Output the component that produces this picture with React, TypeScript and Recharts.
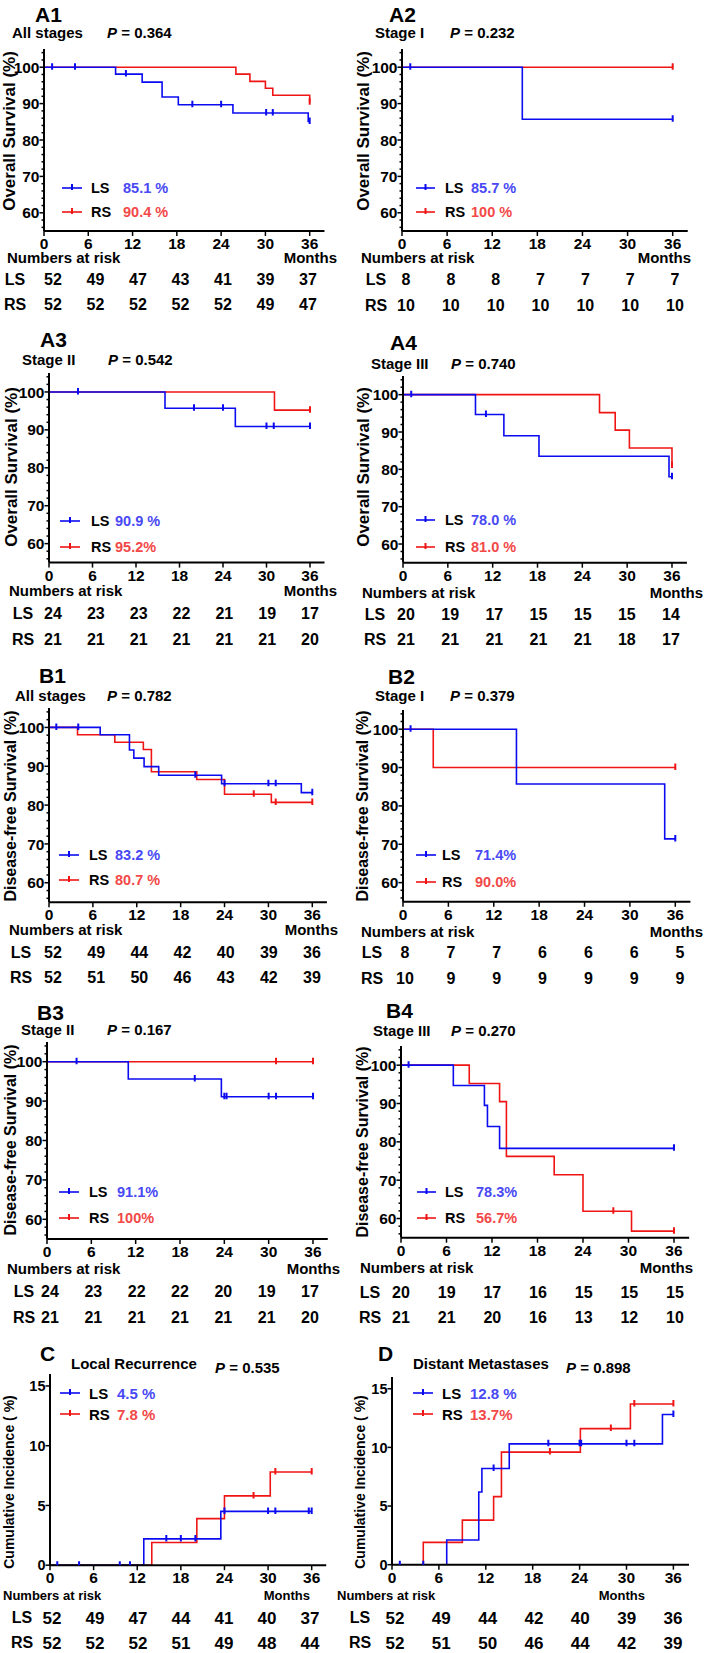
import { ComposedChart, Line, XAxis, YAxis } from 'recharts'

// ── Style ─────────────────────────────────────────────────────────────────────

const FONT = '"Liberation Sans", Arial, Helvetica, sans-serif'
const BLUE = '#0b0bf0'
const RED = '#ef1515'
const BLUE_TEXT = '#4848f4'
const RED_TEXT = '#f24848'

// ── Axes ──────────────────────────────────────────────────────────────────────

const MONTH_TICKS = [0, 6, 12, 18, 24, 30, 36]
const SURVIVAL_TICKS = [
  56, 58, 60, 62, 64, 66, 68, 70, 72, 74, 76, 78, 80, 82, 84, 86, 88, 90, 92, 94, 96, 98, 100, 102, 104,
]
const SURVIVAL_LABELS = [60, 70, 80, 90, 100]
const INCIDENCE_TICKS = [0, 5, 10, 15]

// ── Data: [month, %] steps, censor months, numbers at risk ────────────────────

type Step = [number, number]

const A1_LS_STEPS: Step[] = [[0, 100], [9.7, 98.1], [13.3, 95.9], [16, 91.8], [18.2, 89.7], [25.6, 87.4], [35.8, 85.1], [36, 85.1]]
const A1_LS_CENSOR = [1.1, 4.2, 11.1, 20.1, 24, 30.1, 31, 36]
const A1_RS_STEPS: Step[] = [[0, 100], [26, 98.1], [27.9, 96.1], [30, 94.2], [31, 92.3], [36, 90.4]]
const A1_RS_CENSOR = [36]
const A1_RISK_LS = [52, 49, 47, 43, 41, 39, 37]
const A1_RISK_RS = [52, 52, 52, 52, 52, 49, 47]

const A2_LS_STEPS: Step[] = [[0, 100], [16, 85.7], [36, 85.7]]
const A2_LS_CENSOR = [1.1, 36]
const A2_RS_STEPS: Step[] = [[0, 100], [36, 100]]
const A2_RS_CENSOR = [36]
const A2_RISK_LS = [8, 8, 8, 7, 7, 7, 7]
const A2_RISK_RS = [10, 10, 10, 10, 10, 10, 10]

const A3_LS_STEPS: Step[] = [[0, 100], [16, 95.7], [25.7, 90.9], [36, 90.9]]
const A3_LS_CENSOR = [4, 20, 24, 30, 31, 36]
const A3_RS_STEPS: Step[] = [[0, 100], [31.1, 95.2], [36, 95.2]]
const A3_RS_CENSOR = [36]
const A3_RISK_LS = [24, 23, 23, 22, 21, 19, 17]
const A3_RISK_RS = [21, 21, 21, 21, 21, 21, 20]

const A4_LS_STEPS: Step[] = [[0, 100], [9.7, 94.7], [13.5, 89], [18.2, 83.5], [35.6, 78], [36, 78]]
const A4_LS_CENSOR = [1.1, 11.1, 36]
const A4_RS_STEPS: Step[] = [[0, 100], [26.3, 95.2], [28.4, 90.5], [30.3, 85.7], [36, 81]]
const A4_RS_CENSOR = [36]
const A4_RISK_LS = [20, 19, 17, 15, 15, 15, 14]
const A4_RISK_RS = [21, 21, 21, 21, 21, 18, 17]

const B1_LS_STEPS: Step[] = [[0, 100], [7, 98.1], [11, 94.2], [11.6, 92.1], [13, 89.9], [15, 87.7], [23.6, 85.5], [34.5, 83.2], [36, 83.2]]
const B1_LS_CENSOR = [1, 4, 20, 24, 30, 31, 36]
const B1_RS_STEPS: Step[] = [[0, 100], [3.9, 98.1], [9, 96.2], [12.9, 94.3], [14, 88.6], [20.2, 86.6], [24, 82.8], [30.4, 80.7], [36, 80.7]]
const B1_RS_CENSOR = [28, 31, 36]
const B1_RISK_LS = [52, 49, 44, 42, 40, 39, 36]
const B1_RISK_RS = [52, 51, 50, 46, 43, 42, 39]

const B2_LS_STEPS: Step[] = [[0, 100], [15, 85.7], [34.6, 71.4], [36, 71.4]]
const B2_LS_CENSOR = [1, 36]
const B2_RS_STEPS: Step[] = [[0, 100], [4, 90], [36, 90]]
const B2_RS_CENSOR = [36]
const B2_RISK_LS = [8, 7, 7, 6, 6, 6, 5]
const B2_RISK_RS = [10, 9, 9, 9, 9, 9, 9]

const B3_LS_STEPS: Step[] = [[0, 100], [11, 95.6], [23.6, 91.1], [36, 91.1]]
const B3_LS_CENSOR = [4, 20, 24, 24.3, 30, 31, 36]
const B3_RS_STEPS: Step[] = [[0, 100], [36, 100]]
const B3_RS_CENSOR = [31, 36]
const B3_RISK_LS = [24, 23, 22, 22, 20, 19, 17]
const B3_RISK_RS = [21, 21, 21, 21, 21, 21, 20]

const B4_LS_STEPS: Step[] = [[0, 100], [6.9, 94.7], [11, 89.5], [11.4, 84], [13, 78.3], [36, 78.3]]
const B4_LS_CENSOR = [1, 36]
const B4_RS_STEPS: Step[] = [[0, 100], [9, 95.2], [13, 90.5], [13.9, 76.2], [20.2, 71.4], [24, 61.9], [30.4, 56.7], [36, 56.7]]
const B4_RS_CENSOR = [28, 36]
const B4_RISK_LS = [20, 19, 17, 16, 15, 15, 15]
const B4_RISK_RS = [21, 21, 20, 16, 13, 12, 10]

const C_LS_STEPS: Step[] = [[0, 0], [12.9, 2.2], [23.5, 4.5], [36, 4.5]]
const C_LS_CENSOR = [1, 4, 9.6, 11, 16, 18, 20, 24, 30, 31, 35.6, 36]
const C_RS_STEPS: Step[] = [[0, 0], [14, 1.9], [20.2, 3.9], [24, 5.8], [30.3, 7.8], [36, 7.8]]
const C_RS_CENSOR = [28, 31, 36]
const C_RISK_LS = [52, 49, 47, 44, 41, 40, 37]
const C_RISK_RS = [52, 52, 52, 51, 49, 48, 44]

const D_LS_STEPS: Step[] = [[0, 0], [7, 2.1], [11.1, 6.2], [11.5, 8.2], [15, 10.3], [34.6, 12.8], [36, 12.8]]
const D_LS_CENSOR = [1, 4, 13, 20, 24, 24.2, 30, 31, 36]
const D_RS_STEPS: Step[] = [[0, 0], [4, 1.9], [9, 3.8], [13, 5.8], [14, 9.6], [24.1, 11.6], [30.5, 13.7], [36, 13.7]]
const D_RS_CENSOR = [20.2, 28, 31, 36]
const D_RISK_LS = [52, 49, 44, 42, 40, 39, 36]
const D_RISK_RS = [52, 51, 50, 46, 44, 42, 39]

// ── Panel layout ──────────────────────────────────────────────────────────────

interface Panel {
  id: string
  tag: [number, number]
  sub: string
  subAt: [number, number]
  p: string
  pAt: [number, number]
  yTitle: string
  yTitleAt: [number, number]
  yTitleSize: number
  px0: number
  px36: number
  top: number
  bottom: number
  yDomain: [number, number]
  yTicks: number[]
  yLabels: number[]
  ls: { steps: Step[]; censor: number[]; value: string; risk: number[] }
  rs: { steps: Step[]; censor: number[]; value: string; risk: number[] }
  legLine: [number, number]
  legLabelX: number
  legValX: number
  legY: [number, number]
  legSize: number
  nar: [number, number]
  monthsRight: number
  narSize: number
  rowLabelX: number
  rowFirst: number
  rowLast: number
  rowY: [number, number]
  numSize: number
}

const OS = 'Overall Survival (%)'
const DFS = 'Disease-free Survival (%)'
const CI = 'Cumulative Incidence ( %)'

const surv = { yDomain: [55, 105] as [number, number], yTicks: SURVIVAL_TICKS, yLabels: SURVIVAL_LABELS, legSize: 14.5, narSize: 15, numSize: 16 }
const inc = { yDomain: [0, 16] as [number, number], yTicks: INCIDENCE_TICKS, yLabels: INCIDENCE_TICKS, legSize: 15, narSize: 13, numSize: 17 }

const PANELS: Panel[] = [
  {
    ...surv, id: 'A1', tag: [35, 13.5], sub: 'All stages', subAt: [12, 32], p: '0.364', pAt: [107, 32],
    yTitle: OS, yTitleAt: [9, 131], yTitleSize: 17, px0: 44.3, px36: 310, top: 48.5, bottom: 230.5,
    ls: { steps: A1_LS_STEPS, censor: A1_LS_CENSOR, value: '85.1 %', risk: A1_RISK_LS },
    rs: { steps: A1_RS_STEPS, censor: A1_RS_CENSOR, value: '90.4 %', risk: A1_RISK_RS },
    legLine: [62, 82], legLabelX: 91, legValX: 123, legY: [188, 212],
    nar: [7, 257], monthsRight: 337, rowLabelX: 15, rowFirst: 53, rowLast: 308, rowY: [280, 305],
  },
  {
    ...surv, id: 'A2', tag: [389, 13.5], sub: 'Stage I', subAt: [375, 32], p: '0.232', pAt: [450, 32],
    yTitle: OS, yTitleAt: [363, 131], yTitleSize: 17, px0: 402.3, px36: 673, top: 48.5, bottom: 230.5,
    ls: { steps: A2_LS_STEPS, censor: A2_LS_CENSOR, value: '85.7 %', risk: A2_RISK_LS },
    rs: { steps: A2_RS_STEPS, censor: A2_RS_CENSOR, value: '100 %', risk: A2_RISK_RS },
    legLine: [416, 435], legLabelX: 445, legValX: 471, legY: [188, 212],
    nar: [361, 257], monthsRight: 691, rowLabelX: 376, rowFirst: 406, rowLast: 675, rowY: [280, 306],
  },
  {
    ...surv, id: 'A3', tag: [40, 339], sub: 'Stage II', subAt: [22, 359], p: '0.542', pAt: [108, 359],
    yTitle: OS, yTitleAt: [11, 467], yTitleSize: 17, px0: 49, px36: 310, top: 372.7, bottom: 562.3,
    ls: { steps: A3_LS_STEPS, censor: A3_LS_CENSOR, value: '90.9 %', risk: A3_RISK_LS },
    rs: { steps: A3_RS_STEPS, censor: A3_RS_CENSOR, value: '95.2%', risk: A3_RISK_RS },
    legLine: [60, 80], legLabelX: 91, legValX: 115, legY: [521, 547],
    nar: [9, 590], monthsRight: 337, rowLabelX: 23, rowFirst: 53, rowLast: 310, rowY: [614, 640],
  },
  {
    ...surv, id: 'A4', tag: [390, 341.7], sub: 'Stage III', subAt: [371, 362.7], p: '0.740', pAt: [451, 362.7],
    yTitle: OS, yTitleAt: [363, 467], yTitleSize: 17, px0: 403, px36: 672, top: 376.3, bottom: 563,
    ls: { steps: A4_LS_STEPS, censor: A4_LS_CENSOR, value: '78.0 %', risk: A4_RISK_LS },
    rs: { steps: A4_RS_STEPS, censor: A4_RS_CENSOR, value: '81.0 %', risk: A4_RISK_RS },
    legLine: [416, 435], legLabelX: 445, legValX: 471, legY: [520, 547],
    nar: [362, 592], monthsRight: 703, rowLabelX: 375, rowFirst: 406, rowLast: 671, rowY: [615, 640],
  },
  {
    ...surv, id: 'B1', tag: [39, 675], sub: 'All stages', subAt: [15, 695], p: '0.782', pAt: [107, 695],
    yTitle: DFS, yTitleAt: [11, 806], yTitleSize: 16, px0: 49, px36: 312.3, top: 707.9, bottom: 902.1,
    ls: { steps: B1_LS_STEPS, censor: B1_LS_CENSOR, value: '83.2 %', risk: B1_RISK_LS },
    rs: { steps: B1_RS_STEPS, censor: B1_RS_CENSOR, value: '80.7 %', risk: B1_RISK_RS },
    legLine: [59, 79], legLabelX: 89, legValX: 115, legY: [855, 880],
    nar: [9, 929], monthsRight: 338, rowLabelX: 21, rowFirst: 53, rowLast: 312, rowY: [953, 978],
  },
  {
    ...surv, id: 'B2', tag: [388, 676], sub: 'Stage I', subAt: [375, 695], p: '0.379', pAt: [450, 695],
    yTitle: DFS, yTitleAt: [363, 806], yTitleSize: 16, px0: 403, px36: 675.3, top: 710.1, bottom: 901.9,
    ls: { steps: B2_LS_STEPS, censor: B2_LS_CENSOR, value: '71.4%', risk: B2_RISK_LS },
    rs: { steps: B2_RS_STEPS, censor: B2_RS_CENSOR, value: '90.0%', risk: B2_RISK_RS },
    legLine: [416, 436], legLabelX: 442, legValX: 475, legY: [855, 882],
    nar: [361, 931], monthsRight: 703, rowLabelX: 372, rowFirst: 405, rowLast: 680, rowY: [953, 979],
  },
  {
    ...surv, id: 'B3', tag: [37, 1011.7], sub: 'Stage II', subAt: [21, 1029], p: '0.167', pAt: [107, 1029],
    yTitle: DFS, yTitleAt: [11, 1140], yTitleSize: 16, px0: 47.3, px36: 313.3, top: 1042, bottom: 1239,
    ls: { steps: B3_LS_STEPS, censor: B3_LS_CENSOR, value: '91.1%', risk: B3_RISK_LS },
    rs: { steps: B3_RS_STEPS, censor: B3_RS_CENSOR, value: '100%', risk: B3_RISK_RS },
    legLine: [59, 79], legLabelX: 89, legValX: 117, legY: [1192, 1218],
    nar: [7, 1268], monthsRight: 340, rowLabelX: 24, rowFirst: 50, rowLast: 310, rowY: [1292, 1318],
  },
  {
    ...surv, id: 'B4', tag: [386, 1010], sub: 'Stage III', subAt: [373, 1030], p: '0.270', pAt: [451, 1030],
    yTitle: DFS, yTitleAt: [363, 1142], yTitleSize: 16, px0: 400.7, px36: 673.7, top: 1045.8, bottom: 1237.5,
    ls: { steps: B4_LS_STEPS, censor: B4_LS_CENSOR, value: '78.3%', risk: B4_RISK_LS },
    rs: { steps: B4_RS_STEPS, censor: B4_RS_CENSOR, value: '56.7%', risk: B4_RISK_RS },
    legLine: [417, 436], legLabelX: 445, legValX: 476, legY: [1192, 1218],
    nar: [360, 1267], monthsRight: 693, rowLabelX: 370, rowFirst: 401, rowLast: 675, rowY: [1293, 1318],
  },
  {
    ...inc, id: 'C', tag: [40, 1353], sub: 'Local Recurrence', subAt: [71, 1363], p: '0.535', pAt: [215, 1367],
    yTitle: CI, yTitleAt: [9, 1482], yTitleSize: 14, px0: 50, px36: 311.7, top: 1373.8, bottom: 1565,
    ls: { steps: C_LS_STEPS, censor: C_LS_CENSOR, value: '4.5 %', risk: C_RISK_LS },
    rs: { steps: C_RS_STEPS, censor: C_RS_CENSOR, value: '7.8 %', risk: C_RISK_RS },
    legLine: [60, 80], legLabelX: 89, legValX: 117, legY: [1393, 1414],
    nar: [3, 1595], monthsRight: 310, rowLabelX: 22, rowFirst: 52, rowLast: 310, rowY: [1618, 1643],
  },
  {
    ...inc, id: 'D', tag: [378, 1353], sub: 'Distant Metastases', subAt: [413, 1363], p: '0.898', pAt: [566, 1367],
    yTitle: CI, yTitleAt: [360, 1482], yTitleSize: 14, px0: 392.3, px36: 673.7, top: 1377.3, bottom: 1565,
    ls: { steps: D_LS_STEPS, censor: D_LS_CENSOR, value: '12.8 %', risk: D_RISK_LS },
    rs: { steps: D_RS_STEPS, censor: D_RS_CENSOR, value: '13.7%', risk: D_RISK_RS },
    legLine: [413, 433], legLabelX: 442, legValX: 470, legY: [1393, 1414],
    nar: [337, 1595], monthsRight: 645, rowLabelX: 360, rowFirst: 395, rowLast: 673, rowY: [1618, 1643],
  },
]

// ── Helpers ───────────────────────────────────────────────────────────────────

const toPoints = (steps: Step[]) => steps.map(([t, v]) => ({ t, v }))

// value of the step curve at a censor time
const censorPoints = (steps: Step[], times: number[]) =>
  times.map((t) => {
    let v = steps[0][1]
    for (const [st, sv] of steps) if (st <= t) v = sv
    return { t, v }
  })

const censorDot = (color: string) => (props: any) => {
  const { cx, cy, index } = props
  if (cx == null || cy == null) return <g key={index} />
  return <line key={index} x1={cx} x2={cx} y1={cy - 4} y2={cy + 2.5} stroke={color} strokeWidth={2} />
}

type Align = 'left' | 'center' | 'right'

function Txt({
  x, y, size, children, color = '#000', weight = 700, align = 'left',
}: { x: number; y: number; size: number; children: React.ReactNode; color?: string; weight?: number; align?: Align }) {
  const tx = align === 'left' ? '0' : align === 'center' ? '-50%' : '-100%'
  return (
    <div
      style={{
        position: 'absolute', left: x, top: y, transform: `translate(${tx}, -50%)`,
        fontSize: size, fontWeight: weight, color, lineHeight: 1, whiteSpace: 'nowrap', fontFamily: FONT,
      }}
    >
      {children}
    </div>
  )
}

// ── Chart ─────────────────────────────────────────────────────────────────────

function KMChart({ p }: { p: Panel }) {
  const plotW = ((p.px36 - p.px0) * 38) / 36
  const plotH = p.bottom - p.top
  const width = plotW + 60
  const height = plotH + 40
  const groups = [
    { key: 'rs', g: p.rs, color: RED },
    { key: 'ls', g: p.ls, color: BLUE },
  ]
  return (
    <div style={{ position: 'absolute', left: p.px0 - 50, top: p.top - 10 }}>
      <ComposedChart width={width} height={height} margin={{ top: 10, right: 10, left: 0, bottom: 0 }}>
        <XAxis
          type="number"
          dataKey="t"
          domain={[0, 38]}
          ticks={MONTH_TICKS}
          interval={0}
          allowDataOverflow
          height={30}
          axisLine={{ stroke: '#000', strokeWidth: 2 }}
          tickLine={{ stroke: '#000', strokeWidth: 1.5 }}
          tickSize={5}
          tickMargin={2}
          tick={{ fontSize: 15.5, fontWeight: 700, fill: '#000', fontFamily: FONT }}
        />
        <YAxis
          type="number"
          domain={p.yDomain}
          ticks={p.yTicks}
          interval={0}
          allowDataOverflow
          width={50}
          axisLine={{ stroke: '#000', strokeWidth: 2 }}
          tickLine={false}
          tickSize={0}
          tickMargin={0}
          tick={(props: any) => {
            const { x, y, payload, index } = props
            const major = p.yLabels.includes(payload.value)
            return (
              <g key={index}>
                <line x1={x} x2={x - (major ? 4.5 : 2.5)} y1={y} y2={y} stroke="#000" strokeWidth={1.5} />
                {major && (
                  <text
                    x={x - 4.5}
                    y={y}
                    dy="0.36em"
                    textAnchor="end"
                    fontSize={p.yLabels.length > 4 ? 15.5 : 14.5}
                    fontWeight={700}
                    fontFamily={FONT}
                    fill="#000"
                  >
                    {payload.value}
                  </text>
                )}
              </g>
            )
          }}
        />
        {groups.flatMap(({ key, g, color }) => [
          <Line
            key={key}
            data={toPoints(g.steps)}
            dataKey="v"
            type="stepAfter"
            stroke={color}
            strokeWidth={1.6}
            dot={false}
            activeDot={false}
            isAnimationActive={false}
          />,
          <Line
            key={key + '-censor'}
            data={censorPoints(g.steps, g.censor)}
            dataKey="v"
            stroke="none"
            dot={censorDot(color)}
            activeDot={false}
            isAnimationActive={false}
          />,
        ])}
      </ComposedChart>
    </div>
  )
}

function LegendRow({ p, which }: { p: Panel; which: 'ls' | 'rs' }) {
  const y = which === 'ls' ? p.legY[0] : p.legY[1]
  const color = which === 'ls' ? BLUE : RED
  const [x1, x2] = p.legLine
  const mid = (x1 + x2) / 2
  return (
    <>
      <svg style={{ position: 'absolute', left: 0, top: 0, overflow: 'visible' }} width={1} height={1}>
        <line x1={x1} x2={x2} y1={y} y2={y} stroke={color} strokeWidth={1.6} />
        <line x1={mid} x2={mid} y1={y - 4} y2={y + 2} stroke={color} strokeWidth={2} />
      </svg>
      <Txt x={p.legLabelX} y={y} size={p.legSize}>{which === 'ls' ? 'LS' : 'RS'}</Txt>
      <Txt x={p.legValX} y={y} size={p.legSize} color={which === 'ls' ? BLUE_TEXT : RED_TEXT}>
        {which === 'ls' ? p.ls.value : p.rs.value}
      </Txt>
    </>
  )
}

function RiskRow({ p, which }: { p: Panel; which: 'ls' | 'rs' }) {
  const y = which === 'ls' ? p.rowY[0] : p.rowY[1]
  const risk = which === 'ls' ? p.ls.risk : p.rs.risk
  const step = (p.rowLast - p.rowFirst) / (risk.length - 1)
  return (
    <>
      <Txt x={p.rowLabelX} y={y} size={16} align="center">{which === 'ls' ? 'LS' : 'RS'}</Txt>
      {risk.map((n, i) => (
        <Txt key={i} x={p.rowFirst + i * step} y={y} size={p.numSize} align="center">{n}</Txt>
      ))}
    </>
  )
}

function PanelView({ p }: { p: Panel }) {
  return (
    <>
      <Txt x={p.tag[0]} y={p.tag[1]} size={21}>{p.id}</Txt>
      <Txt x={p.subAt[0]} y={p.subAt[1]} size={15}>{p.sub}</Txt>
      <Txt x={p.pAt[0]} y={p.pAt[1]} size={15}>
        <span style={{ fontStyle: 'italic' }}>P</span> = {p.p}
      </Txt>
      <div
        style={{
          position: 'absolute', left: p.yTitleAt[0], top: p.yTitleAt[1],
          transform: 'translate(-50%, -50%) rotate(-90deg)', fontSize: p.yTitleSize, fontWeight: 700,
          fontFamily: FONT, lineHeight: 1, whiteSpace: 'nowrap', color: '#000',
        }}
      >
        {p.yTitle}
      </div>
      <KMChart p={p} />
      <LegendRow p={p} which="ls" />
      <LegendRow p={p} which="rs" />
      <Txt x={p.nar[0]} y={p.nar[1]} size={p.narSize}>Numbers at risk</Txt>
      <Txt x={p.monthsRight} y={p.nar[1]} size={p.narSize} align="right">Months</Txt>
      <RiskRow p={p} which="ls" />
      <RiskRow p={p} which="rs" />
    </>
  )
}

export default function App() {
  return (
    <div style={{ position: 'absolute', left: 0, top: 0, width: 706, height: 1653, background: '#fff', overflow: 'hidden' }}>
      {PANELS.map((p) => (
        <PanelView key={p.id} p={p} />
      ))}
    </div>
  )
}
